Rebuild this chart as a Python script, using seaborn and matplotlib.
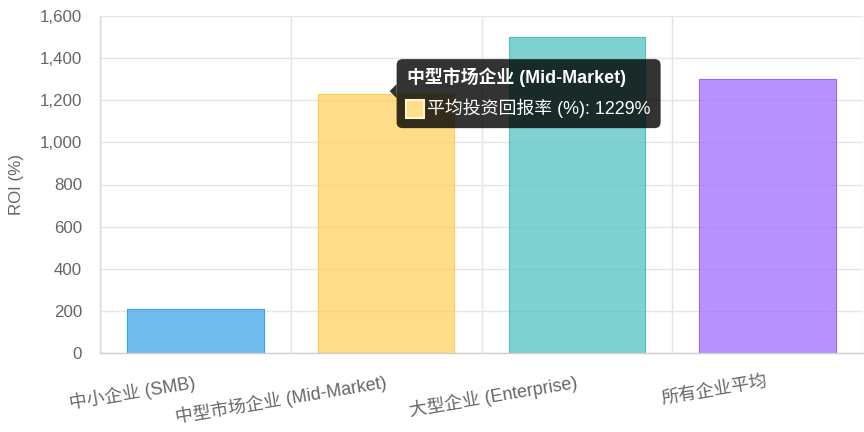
import matplotlib
matplotlib.use("Agg")
import matplotlib.pyplot as plt
import matplotlib.ticker as mticker
from matplotlib.patches import FancyBboxPatch, Polygon, Rectangle
from matplotlib.transforms import IdentityTransform
import seaborn as sns
import pandas as pd

categories = ["中小企业 (SMB)", "中型市场企业 (Mid-Market)", "大型企业 (Enterprise)", "所有企业平均"]
roi_values = [210, 1229, 1500, 1300]
bar_rgb = [(54, 162, 235), (255, 206, 86), (75, 192, 192), (153, 102, 255)]
series_label = "平均投资回报率 (%)"
tooltip_index = 1

FS = 12.2  # ~17px
FS_X = 12.9
FS_TIP = 12.9
GRID = "#e5e5e5"
TEXT = "#666666"

sns.set_style("white")
plt.rcParams["font.family"] = ["Liberation Sans", "Noto Sans CJK SC", "DejaVu Sans"]

fig, ax = plt.subplots(figsize=(8.64, 4.32), dpi=100)
fig.subplots_adjust(left=100 / 864, right=863 / 864, top=1 - 16 / 432, bottom=1 - 353 / 432)

df = pd.DataFrame({"segment": categories, "roi": roi_values})
face = [(r / 255, g / 255, b / 255, 0.7) for r, g, b in bar_rgb]
edge = [(r / 255, g / 255, b / 255) for r, g, b in bar_rgb]

sns.barplot(data=df, x="segment", y="roi", hue="segment", palette=edge,
            width=0.715, saturation=1, legend=False, ax=ax, zorder=2)
for patch, fc, ec in zip(ax.patches, face, edge):
    patch.set_facecolor(fc)
    patch.set_edgecolor(ec)
    patch.set_linewidth(0.8)

ax.set_xlim(-0.5, len(categories) - 0.5)
ax.set_ylim(0, 1600)
ax.yaxis.set_major_locator(mticker.MultipleLocator(200))
ax.yaxis.set_major_formatter(mticker.FuncFormatter(lambda v, _: f"{v:,.0f}"))
ax.set_xticks([i - 0.5 for i in range(len(categories) + 1)], minor=True)

ax.set_axisbelow(True)
ax.grid(True, which="minor", axis="x", color=GRID, lw=1)
ax.grid(True, which="major", axis="y", color=GRID, lw=1)
ax.grid(False, which="major", axis="x")

ax.tick_params(axis="x", which="major", length=0, pad=21, labelsize=FS_X, labelcolor=TEXT)
ax.tick_params(axis="x", which="minor", length=7.5, width=0.72, color=GRID)
ax.tick_params(axis="y", length=10, width=0.72, color=GRID, pad=3, labelsize=FS, labelcolor=TEXT)
plt.setp(ax.get_xticklabels(), rotation=9.5, ha="right", va="center", rotation_mode="anchor")

for side in ["top", "right"]:
    ax.spines[side].set_visible(False)
ax.spines["left"].set_color("#dadada")
ax.spines["bottom"].set_color("#cfcfcf")
ax.spines["left"].set_linewidth(1)
ax.spines["bottom"].set_linewidth(1)

ax.set_xlabel("")
ax.set_ylabel("ROI (%)", fontsize=FS, color=TEXT, va="center")
ax.yaxis.set_label_coords(-83.5 / 763, 0.5)

# tooltip anchored at top of the hovered bar
bx, by = ax.transData.transform((tooltip_index, roi_values[tooltip_index]))
ident = IdentityTransform()
tip_bg = (0, 0, 0, 0.8)
box = FancyBboxPatch((bx + 10.5, by - 34), 264, 69,
                     boxstyle="round,pad=0,rounding_size=6",
                     transform=ident, facecolor=tip_bg, edgecolor="none", zorder=10)
fig.add_artist(box)
caret = Polygon([(bx + 3.5, by + 3), (bx + 10.5, by + 10), (bx + 10.5, by - 4)],
                closed=True, transform=ident, facecolor=tip_bg, edgecolor="none", zorder=10)
fig.add_artist(caret)
fig.text(bx + 20.5, by + 17, categories[tooltip_index], transform=ident,
         color="white", fontsize=FS_TIP, fontweight="bold", va="center", ha="left", zorder=11)
sw = Rectangle((bx + 19.5, by - 24), 18, 18, transform=ident,
               facecolor="#ffdd89", edgecolor="#fff4d6", lw=1.5, zorder=11)
fig.add_artist(sw)
fig.text(bx + 40.5, by - 14, f"{series_label}: {roi_values[tooltip_index]}%", transform=ident,
         color="white", fontsize=FS_TIP, va="center", ha="left", zorder=11)

fig.savefig("out.png", dpi=100)
